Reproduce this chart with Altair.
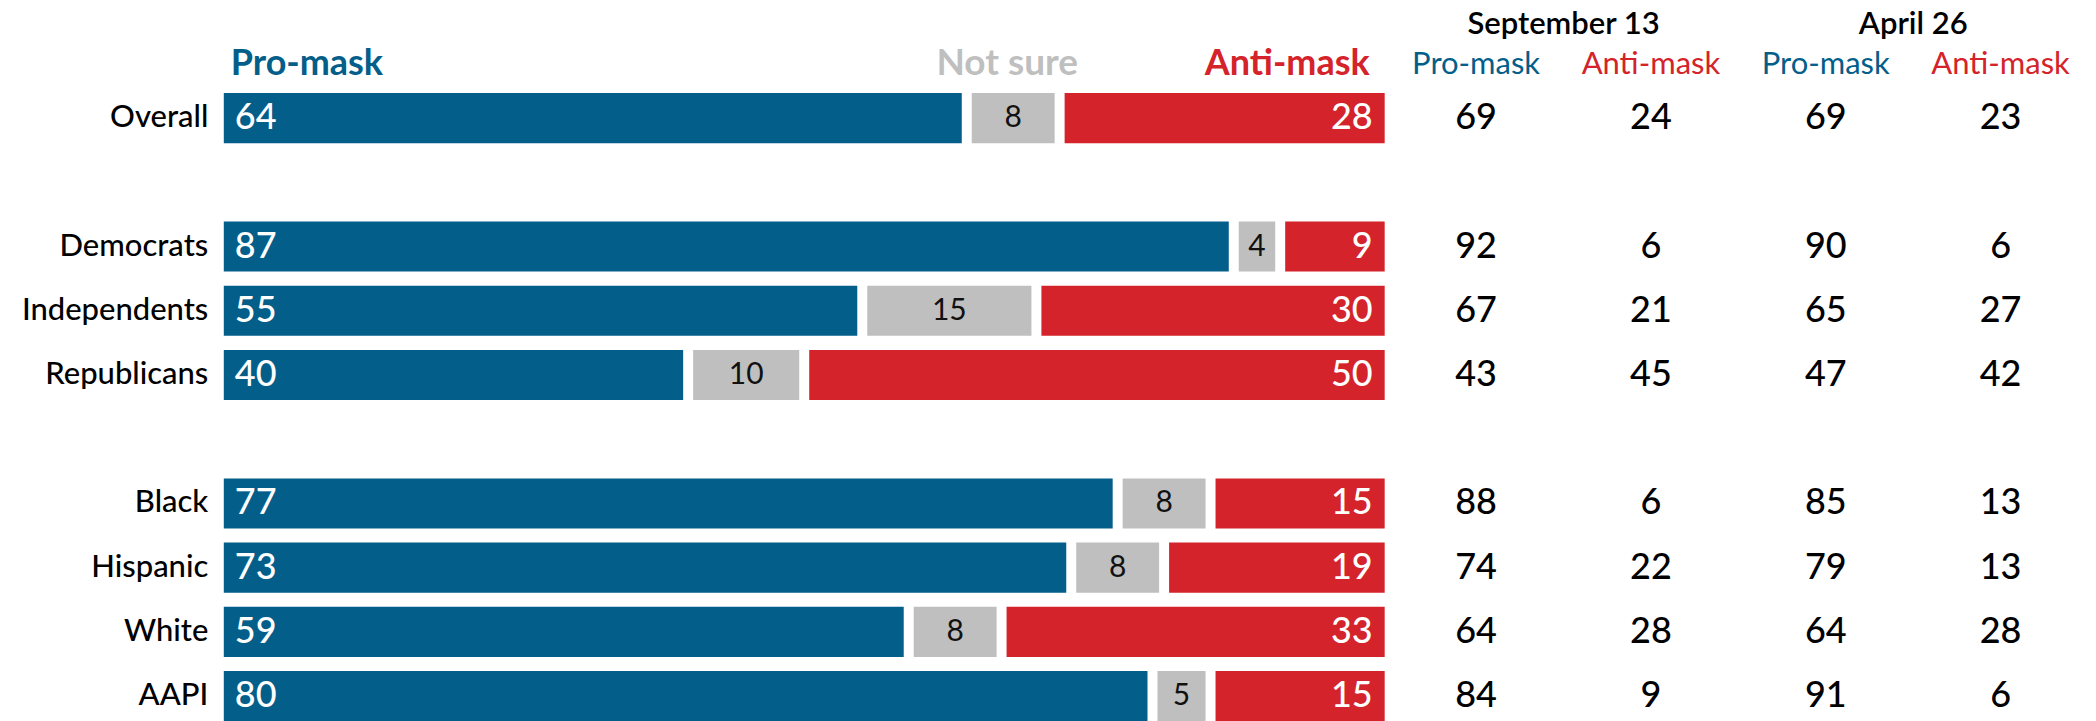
import altair as alt
import pandas as pd

# ---- data ----
groups = ["Overall", "Democrats", "Independents", "Republicans",
          "Black", "Hispanic", "White", "AAPI"]
pro = [64, 87, 55, 40, 77, 73, 59, 80]
not_sure = [8, 4, 15, 10, 8, 8, 8, 5]
anti = [28, 9, 30, 50, 15, 19, 33, 15]

sep_pro = [69, 92, 67, 43, 88, 74, 64, 84]
sep_anti = [24, 6, 21, 45, 6, 22, 28, 9]
apr_pro = [69, 90, 65, 47, 85, 79, 64, 91]
apr_anti = [23, 6, 27, 42, 13, 13, 28, 6]

table_dates = ["September 13", "April 26"]
table_cols = ["Pro-mask", "Anti-mask", "Pro-mask", "Anti-mask"]
bar_headers = ["Pro-mask", "Not sure", "Anti-mask"]

# row order with blank spacer rows and a header row
row_order = ["_hdr", "Overall", "_g1", "Democrats", "Independents",
             "Republicans", "_g2", "Black", "Hispanic", "White", "AAPI"]

BLUE = "#035e8a"
RED = "#d4232a"
GRAY = "#bfbfbf"
FONT = "Lato"

# ---- tables built from the arrays ----
seg_rows = []
for g, p, n, a in zip(groups, pro, not_sure, anti):
    seg_rows.append(dict(group=g, seg="pro", start=0, end=p, value=p))
    seg_rows.append(dict(group=g, seg="ns", start=p, end=p + n, value=n))
    seg_rows.append(dict(group=g, seg="anti", start=p + n, end=p + n + a, value=a))
seg = pd.DataFrame(seg_rows)

hdr = pd.DataFrame([
    dict(group="_hdr", key="pro", label=bar_headers[0], xpos=0),
    dict(group="_hdr", key="ns", label=bar_headers[1], xpos=pro[0] + not_sure[0] / 2),
    dict(group="_hdr", key="anti", label=bar_headers[2], xpos=pro[0] + not_sure[0] + anti[0]),
])

tab_rows = []
for i, g in enumerate(groups):
    for c, arr in enumerate([sep_pro, sep_anti, apr_pro, apr_anti]):
        tab_rows.append(dict(group=g, col=c, value=arr[i]))
tab = pd.DataFrame(tab_rows)

sub = pd.DataFrame([dict(group="_hdr", col=i, label=c) for i, c in enumerate(table_cols)])
dates = pd.DataFrame([dict(group="_hdr", col=2 * j + 0.5, label=d) for j, d in enumerate(table_dates)])

# ---- shared scales ----
yscale = alt.Scale(type="band", domain=row_order, paddingInner=0.22, paddingOuter=0.32)
y_axis = alt.Axis(
    title=None, ticks=False, domain=False, grid=False,
    labelFont=FONT, labelFontSize=31, labelFontWeight=500, labelColor="#000000",
    labelLimit=0, labelPadding=16, minExtent=216, maxExtent=216,
    labelExpr="indexof(datum.value, '_') == 0 ? '' : datum.value",
)
Y = alt.Y("group:N", scale=yscale, axis=y_axis)
Yn = alt.Y("group:N", scale=yscale, axis=None)

xscale = alt.Scale(domain=[0, 100], nice=False, zero=False)

base = alt.Chart(seg)

bar_pro = base.transform_filter("datum.seg == 'pro'").mark_bar(
    color=BLUE, x2Offset=-5
).encode(x=alt.X("start:Q", scale=xscale, axis=None), x2="end:Q", y=Y)

bar_ns = base.transform_filter("datum.seg == 'ns'").mark_bar(
    color=GRAY, xOffset=5, x2Offset=-5
).encode(x=alt.X("start:Q", scale=xscale, axis=None), x2="end:Q", y=Y)

bar_anti = base.transform_filter("datum.seg == 'anti'").mark_bar(
    color=RED, xOffset=5
).encode(x=alt.X("start:Q", scale=xscale, axis=None), x2="end:Q", y=Y)

lab_pro = base.transform_filter("datum.seg == 'pro'").mark_text(
    align="left", baseline="middle", dx=11, color="white", fontSize=36,
    fontWeight=500, font=FONT
).encode(x=alt.X("start:Q", scale=xscale, axis=None), y=Y, text="value:Q")

lab_ns = base.transform_filter("datum.seg == 'ns'").transform_calculate(
    mid="(datum.start + datum.end) / 2"
).mark_text(
    align="center", baseline="middle", color="#111111", fontSize=30, font=FONT
).encode(x=alt.X("mid:Q", scale=xscale, axis=None), y=Y, text="value:Q")

lab_anti = base.transform_filter("datum.seg == 'anti'").mark_text(
    align="right", baseline="middle", dx=-12, color="white", fontSize=36,
    fontWeight=500, font=FONT
).encode(x=alt.X("end:Q", scale=xscale, axis=None), y=Y, text="value:Q")

hbase = alt.Chart(hdr)
h_pro = hbase.transform_filter("datum.key == 'pro'").mark_text(
    align="left", baseline="alphabetic", dx=7, dy=21, color=BLUE,
    fontSize=36, fontWeight="bold", font=FONT
).encode(x=alt.X("xpos:Q", scale=xscale, axis=None), y=Y, text="label:N")
h_ns = hbase.transform_filter("datum.key == 'ns'").mark_text(
    align="center", baseline="alphabetic", dx=-6, dy=21, color=GRAY,
    fontSize=37, fontWeight="bold", font=FONT
).encode(x=alt.X("xpos:Q", scale=xscale, axis=None), y=Y, text="label:N")
h_anti = hbase.transform_filter("datum.key == 'anti'").mark_text(
    align="right", baseline="alphabetic", dx=-15, dy=21, color=RED,
    fontSize=36, fontWeight="bold", font=FONT
).encode(x=alt.X("xpos:Q", scale=xscale, axis=None), y=Y, text="label:N")

left = alt.layer(
    bar_pro, bar_ns, bar_anti, lab_pro, lab_ns, lab_anti, h_pro, h_ns, h_anti
).properties(width=1162, height=734)

# ---- right-hand table ----
cscale = alt.Scale(domain=[-0.5, 3.5], nice=False, zero=False)
colscale = alt.Scale(domain=["Pro-mask", "Anti-mask"], range=[BLUE, RED])

t_nums = alt.Chart(tab).mark_text(
    align="center", baseline="middle", fontSize=36, fontWeight=500,
    font=FONT, color="#000000"
).encode(x=alt.X("col:Q", scale=cscale, axis=None), y=Yn, text="value:Q")

t_sub = alt.Chart(sub).mark_text(
    align="center", baseline="alphabetic", dy=20, fontSize=31, font=FONT
).encode(
    x=alt.X("col:Q", scale=cscale, axis=None), y=Yn, text="label:N",
    color=alt.Color("label:N", scale=colscale, legend=None),
)

t_dates = alt.Chart(dates).mark_text(
    align="center", baseline="alphabetic", dy=-20, fontSize=31,
    fontWeight=600, font=FONT, color="#000000"
).encode(x=alt.X("col:Q", scale=cscale, axis=None), y=Yn, text="label:N")

right = alt.layer(t_nums, t_sub, t_dates).properties(width=700, height=734)

chart = alt.hconcat(left, right, spacing=4, bounds="flush").properties(
    padding={"left": 0, "top": 0, "right": 0, "bottom": 0},
    background="white",
).configure_view(stroke=None)

chart.save("out.html", embed_options={"renderer": "svg", "actions": False})
